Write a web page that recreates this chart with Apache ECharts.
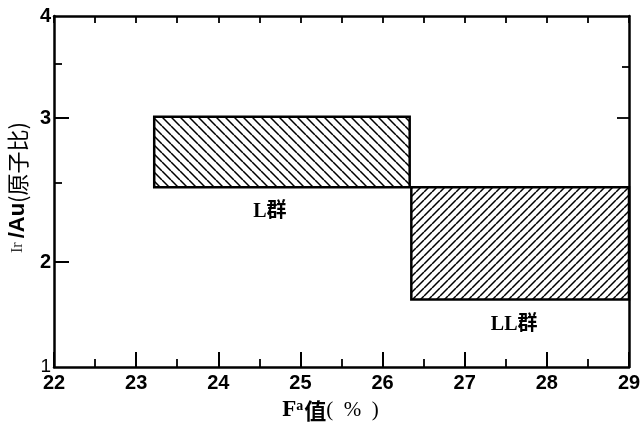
<!DOCTYPE html>
<html><head><meta charset="utf-8">
<script src="https://cdn.jsdelivr.net/npm/echarts@6/dist/echarts.min.js"></script>
<style>html,body{margin:0;padding:0;background:#fff}#c{width:642px;height:422px}</style>
</head><body><div id="c"></div>
<script>
// ---- data ----
const groups = ['L群', 'LL群'];
const faStart = [23.22, 26.35];
const faEnd = [26.33, 29.0];
const ratioLow = [2.52, 1.74];
const ratioHigh = [3.01, 2.52];
const xTickLabels = ['22', '23', '24', '25', '26', '27', '28', '29'];
const yTickLabels = ['1', '2', '3', '4'];
const yLabelValues = [1.27, 2, 3, 3.71];
const yMajorTicks = [2, 3];
const yMinorTicks = [2.55, 3.38];
const yRightLongTicks = [3.0];
const yRightShortTicks = [3.36];
const X_MIN = 22, X_MAX = 29, Y_MIN = 1.27, Y_MAX = 3.71;

// ---- styling (not data) ----
const labelShift = [-12, -6];

function hatch(size, dir) {
  const c = document.createElement('canvas');
  c.width = size; c.height = size;
  const g = c.getContext('2d');
  g.strokeStyle = '#000'; g.lineWidth = 1.5;
  g.beginPath();
  for (let k = -1; k <= 2; k++) {
    if (dir === 'back') { g.moveTo(0, k * size); g.lineTo(size, size + k * size); }
    else { g.moveTo(0, k * size); g.lineTo(size, k * size - size); }
  }
  g.stroke();
  return c;
}
const patterns = [hatch(9, 'back'), hatch(8, 'fwd')];

const black = '#000';
const tickFont = { color: black, fontSize: 20, fontWeight: 'bold', fontFamily: 'Liberation Sans, Arial, sans-serif' };

const chart = echarts.init(document.getElementById('c'), null, { renderer: 'canvas' });
const data = groups.map((g, i) => [faStart[i], faEnd[i], ratioLow[i], ratioHigh[i], i]);

chart.setOption({
  animation: false,
  backgroundColor: '#fff',
  grid: { left: 54, right: 13, top: 16, bottom: 55, containLabel: false, outerBoundsMode: 'none' },
  xAxis: [
    {
      type: 'value', min: X_MIN, max: X_MAX, interval: 1, position: 'bottom',
      axisLine: { show: true, onZero: false, lineStyle: { color: black, width: 2.5 } },
      axisTick: { show: true, inside: true, length: 15, lineStyle: { color: black, width: 2 } },
      minorTick: { show: true, splitNumber: 2, length: 8, lineStyle: { color: black, width: 1.8 } },
      axisLabel: Object.assign({ margin: 6, formatter: v => xTickLabels[Math.round(v - X_MIN)] }, tickFont),
      splitLine: { show: false },
      name: '{f|F}{a|a}{z|值}{p|(  %  )}', nameLocation: 'middle', nameGap: 32,
      nameTextStyle: {
        padding: [0, 22, 0, 0],
        rich: {
          f: { fontSize: 23, fontWeight: 'bold', fontFamily: 'Liberation Serif, serif', color: black },
          a: { fontSize: 14, fontWeight: 'bold', fontFamily: 'Liberation Serif, serif', color: black, verticalAlign: 'top', padding: [0, 1, 8, 0] },
          z: { fontSize: 22, fontWeight: 'bold', fontFamily: 'Noto Sans CJK SC', color: black },
          p: { fontSize: 21, fontFamily: 'Liberation Serif, serif', color: black }
        }
      }
    },
    {
      type: 'value', min: X_MIN, max: X_MAX, interval: 0.5, position: 'top',
      axisLine: { show: true, onZero: false, lineStyle: { color: black, width: 2.5 } },
      axisTick: { show: true, inside: true, length: 7, lineStyle: { color: black, width: 1.8 } },
      axisLabel: { show: false }, splitLine: { show: false }
    }
  ],
  yAxis: [
    {
      type: 'value', min: Y_MIN, max: Y_MAX, position: 'left',
      axisLine: { show: true, onZero: false, lineStyle: { color: black, width: 2.5 } },
      axisTick: { show: true, inside: true, length: 15, customValues: yMajorTicks, lineStyle: { color: black, width: 2 } },
      axisLabel: Object.assign({
        margin: 3, customValues: yLabelValues,
        formatter: v => {
          let best = 0;
          yLabelValues.forEach((u, i) => { if (Math.abs(u - v) < Math.abs(yLabelValues[best] - v)) best = i; });
          return best === 0 ? '{t|' + yTickLabels[0] + '}' : yTickLabels[best];
        },
        rich: { t: { fontSize: 19, fontWeight: 'normal', fontFamily: 'Liberation Sans Narrow, Liberation Sans, sans-serif', color: black } }
      }, tickFont),
      splitLine: { show: false },
      name: '{ir|Ir }{au|/Au}{cn|(原子比)}', nameLocation: 'middle', nameGap: 14, nameRotate: 90,
      nameTextStyle: {
        padding: [0, 0, 0, 8],
        rich: {
          ir: { fontSize: 16, fontFamily: 'Liberation Serif, serif', color: '#333' },
          au: { fontSize: 22, fontWeight: 'bold', fontFamily: 'Liberation Sans, sans-serif', color: black },
          cn: { fontSize: 22, fontFamily: 'Noto Sans CJK SC', color: black }
        }
      }
    },
    {
      type: 'value', min: Y_MIN, max: Y_MAX, position: 'left',
      axisLine: { show: false },
      axisTick: { show: true, inside: true, length: 8, customValues: yMinorTicks, lineStyle: { color: black, width: 1.8 } },
      axisLabel: { show: false }, splitLine: { show: false }
    },
    {
      type: 'value', min: Y_MIN, max: Y_MAX, position: 'right',
      axisLine: { show: true, onZero: false, lineStyle: { color: black, width: 2.5 } },
      axisTick: { show: true, inside: true, length: 12, customValues: yRightLongTicks, lineStyle: { color: black, width: 1.8 } },
      axisLabel: { show: false }, splitLine: { show: false }
    },
    {
      type: 'value', min: Y_MIN, max: Y_MAX, position: 'right',
      axisLine: { show: false },
      axisTick: { show: true, inside: true, length: 7, customValues: yRightShortTicks, lineStyle: { color: black, width: 1.8 } },
      axisLabel: { show: false }, splitLine: { show: false }
    }
  ],
  series: [{
    type: 'custom',
    xAxisIndex: 0, yAxisIndex: 0,
    encode: { x: [0, 1], y: [2, 3] },
    data: data,
    clip: false,
    renderItem: function (params, api) {
      const p0 = api.coord([api.value(0), api.value(3)]);
      const p1 = api.coord([api.value(1), api.value(2)]);
      const i = api.value(4);
      const x = p0[0], y = p0[1], w = p1[0] - p0[0], h = p1[1] - p0[1];
      return {
        type: 'group',
        children: [
          { type: 'rect', shape: { x: x, y: y, width: w, height: h },
            style: { fill: { image: patterns[i], repeat: 'repeat' }, stroke: 'none' } },
          { type: 'rect', shape: { x: x, y: y, width: w, height: h },
            style: { fill: 'none', stroke: black, lineWidth: 2.5 } },
          { type: 'text', x: x + w / 2 + labelShift[i], y: y + h + 25,
            style: { text: groups[i], fill: black, fontSize: 20, fontWeight: 'bold',
              fontFamily: 'Liberation Serif, Noto Sans CJK SC, serif', align: 'center', verticalAlign: 'middle' } }
        ]
      };
    }
  }]
});
</script>
</body></html>
